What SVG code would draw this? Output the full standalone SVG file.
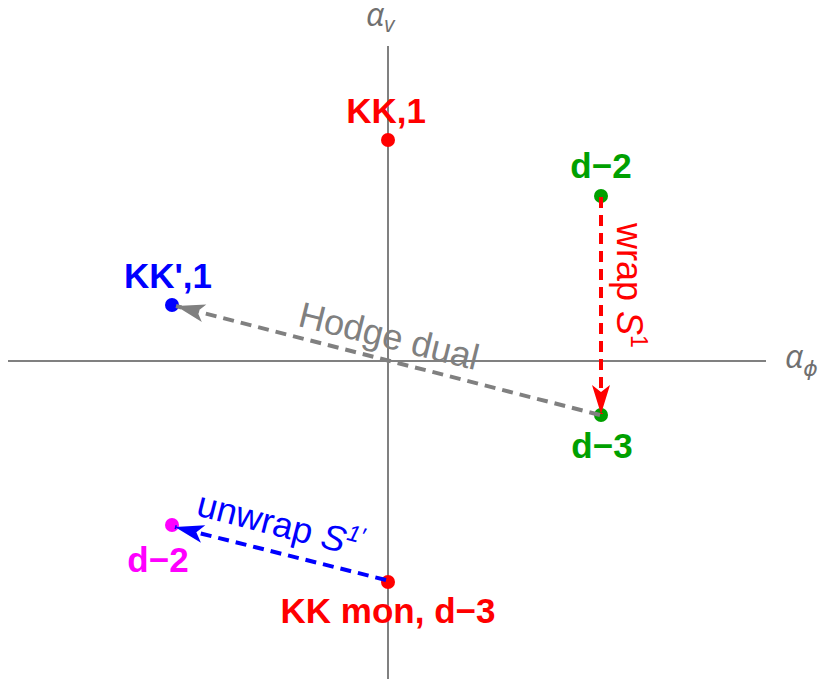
<svg xmlns="http://www.w3.org/2000/svg" width="828" height="679" viewBox="0 0 828 679">
<style>
.axis{stroke:#808080;stroke-width:2;fill:none}
.ax{font-family:"Open Sans","DejaVu Sans",sans-serif;font-style:italic;fill:#707070}
.lbl{font-family:"Liberation Sans",Arial,sans-serif;font-weight:bold;font-size:35px;text-anchor:middle}
.note{font-family:"Liberation Sans",Arial,sans-serif;font-size:36px}
.dash{fill:none;stroke-width:4;stroke-dasharray:11 7}
</style>
<defs>
<marker id="ahR" viewBox="0 0 32 22" refX="30" refY="11" markerWidth="32" markerHeight="22" markerUnits="userSpaceOnUse" orient="auto"><path d="M30,11 L1,2 L8,11 L1,20 Z" fill="#ff0000"/></marker>
<marker id="ahG" viewBox="0 0 32 22" refX="30" refY="11" markerWidth="32" markerHeight="22" markerUnits="userSpaceOnUse" orient="auto"><path d="M30,11 L1,2 L8,11 L1,20 Z" fill="#808080"/></marker>
<marker id="ahB" viewBox="0 0 32 22" refX="30" refY="11" markerWidth="32" markerHeight="22" markerUnits="userSpaceOnUse" orient="auto"><path d="M30,11 L1,2 L8,11 L1,20 Z" fill="#0000ff"/></marker>
</defs>
<rect width="828" height="679" fill="#ffffff"/>
<g id="axes">
<line class="axis" x1="388" y1="46" x2="388" y2="679"/>
<line class="axis" x1="8" y1="361" x2="766" y2="361"/>
<text class="ax" x="366" y="26" font-size="32">α<tspan font-size="22" dy="6">v</tspan></text>
<text class="ax" x="785" y="368" font-size="32">α<tspan font-size="22" dy="8">ϕ</tspan></text>
</g>
<g id="node-kk1">
<circle cx="388" cy="140" r="7" fill="#ff0000"/>
<text class="lbl" x="386" y="123" fill="#ff0000">KK,1</text>
</g>
<g id="node-d2-green">
<circle cx="601" cy="196" r="7" fill="#00a000"/>
<text class="lbl" x="601" y="178" fill="#00a000">d−2</text>
</g>
<g id="node-kkp1">
<circle cx="172" cy="305" r="7" fill="#0000ff"/>
<text class="lbl" x="168" y="288" fill="#0000ff">KK',1</text>
</g>
<g id="node-d3-green">
<circle cx="601" cy="415" r="7" fill="#00a000"/>
<text class="lbl" x="602" y="458" fill="#00a000">d−3</text>
</g>
<g id="node-d2-magenta">
<circle cx="172" cy="525" r="7" fill="#ff00ff"/>
<text class="lbl" x="158" y="572" fill="#ff00ff">d−2</text>
</g>
<g id="node-kkmon">
<circle cx="388" cy="582" r="7" fill="#ff0000"/>
<text class="lbl" x="388" y="623" fill="#ff0000">KK mon, d−3</text>
</g>
<g id="connectors">
<line class="dash" x1="601" y1="197" x2="601" y2="414" stroke="#ff0000" marker-end="url(#ahR)"/>
<line class="dash" x1="600" y1="415" x2="176" y2="306" stroke="#808080" marker-end="url(#ahG)"/>
<line class="dash" x1="386" y1="580" x2="175" y2="527" stroke="#0000ff" marker-end="url(#ahB)"/>
<text class="note" x="617" y="223" fill="#ff0000" transform="rotate(90 617 223)">wrap <tspan font-style="italic">S</tspan><tspan font-size="23" dy="-14">1</tspan></text>
<text class="note" x="386" y="348" fill="#808080" text-anchor="middle" transform="rotate(14 386 348)">Hodge dual</text>
<text class="note" x="195" y="515" fill="#0000ff" transform="rotate(14.5 195 515)">unwrap <tspan font-style="italic">S</tspan><tspan font-size="23" font-style="italic" dy="-14">1′</tspan></text>
</g>
</svg>
